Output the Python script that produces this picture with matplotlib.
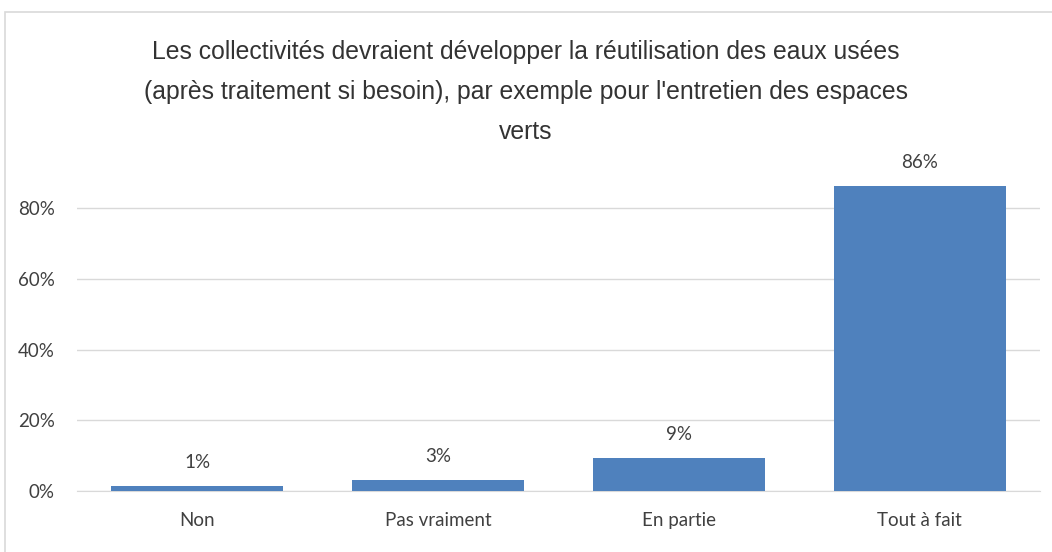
import matplotlib.pyplot as plt
from matplotlib.patches import Rectangle
from matplotlib.ticker import PercentFormatter

categories = ['Non', 'Pas vraiment', 'En partie', 'Tout à fait']
values = [0.013, 0.031, 0.094, 0.863]
value_labels = ['1%', '3%', '9%', '86%']
y_ticks = [0.0, 0.2, 0.4, 0.6, 0.8]

title = ("Les collectivités devraient développer la réutilisation des eaux usées\n"
         "(après traitement si besoin), par exemple pour l'entretien des espaces\n"
         "verts")

BAR_COLOR = '#4F81BD'
GRID_COLOR = '#D9D9D9'
TEXT_COLOR = '#404040'
body_font = ['Lato', 'DejaVu Sans']
title_font = ['Liberation Sans', 'DejaVu Sans']

fig = plt.figure(figsize=(10.52, 5.52), dpi=100)
fig.patch.set_facecolor('white')

# light chart frame like the Excel chart area
fig.patches.append(Rectangle((0.005, -0.02), 1.1, 0.998, transform=fig.transFigure,
                             fill=False, edgecolor='#D9D9D9', linewidth=1.2))

ax = fig.add_axes([0.0732, 0.1105, 0.9154, 0.64])
x = range(len(categories))
bars = ax.bar(x, values, width=0.715, color=BAR_COLOR, zorder=3)

for rect, lab in zip(bars, value_labels):
    ax.annotate(lab, (rect.get_x() + rect.get_width() / 2, rect.get_height()),
                xytext=(0, 11), textcoords='offset points', ha='center', va='bottom',
                fontsize=13.5, color=TEXT_COLOR, family=body_font, annotation_clip=False)

ax.set_xlim(-0.5, len(categories) - 0.5)
ax.set_ylim(0, 1.0)
ax.set_yticks(y_ticks)
ax.yaxis.set_major_formatter(PercentFormatter(1.0, decimals=0))
ax.set_xticks(list(x))
ax.set_xticklabels(categories)
ax.grid(axis='y', color=GRID_COLOR, linewidth=1, zorder=0)
for s in ['top', 'right', 'left']:
    ax.spines[s].set_visible(False)
ax.spines['bottom'].set_color(GRID_COLOR)
ax.tick_params(length=0, colors=TEXT_COLOR, labelsize=13.5)
ax.tick_params(axis='x', pad=15)
ax.tick_params(axis='y', pad=16)
for t in ax.get_xticklabels() + ax.get_yticklabels():
    t.set_family(body_font)

fig.text(0.5, 0.928, title, ha='center', va='top', fontsize=17.8, linespacing=1.85,
         color='#333333', family=title_font)

fig.savefig('out.png', dpi=100)
